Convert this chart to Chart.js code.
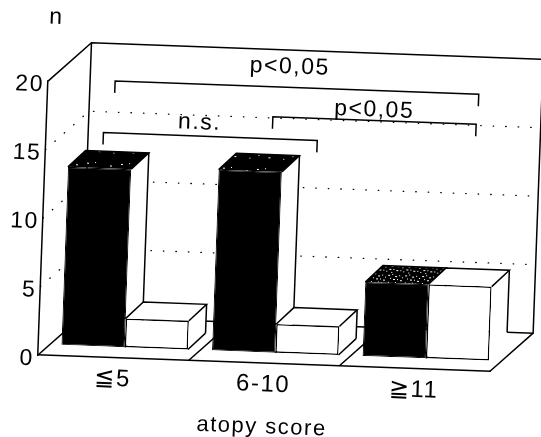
<!DOCTYPE html>
<html><head><meta charset="utf-8">
<style>html,body{margin:0;padding:0;background:#fff}canvas{display:block}</style>
<script src="https://cdn.jsdelivr.net/npm/chart.js@4"></script>
</head><body><canvas id="c" width="541" height="437"></canvas>
<script>
const categories = ['≦5', '6-10', '≧11'];
const blackValues = [13, 13.2, 5.4];
const whiteValues = [2.1, 2.1, 5.4];
const yTicks = [0, 5, 10, 15, 20];
const xTitle = 'atopy score';
const yUnit = 'n';
const bracketLabels = ['p<0,05', 'n.s.', 'p<0,05'];
const bracketFrom = [-0.055, -0.12, 1.0];
const bracketTo = [2.36, 1.3, 2.35];
const bracketLevel = [20.2, 16.4, 18.0];
const FONT = '"Liberation Sans", "DejaVu Sans", sans-serif';
const TILT = 2.1 * Math.PI / 180, PIVOT = [38, 355];
const WALL = [42, -40], FRONT = [11, -11], BAR = [17, -17];

function speckle(points, size) {
  const c = document.createElement('canvas'); c.width = c.height = size;
  const g = c.getContext('2d');
  g.fillStyle = '#000'; g.fillRect(0, 0, size, size);
  g.fillStyle = '#fff';
  points.forEach(p => g.fillRect(p[0], p[1], p[2] || 1, 1));
  return c;
}
const darkSpots = [[1,2,2],[9,1],[24,4,2],[4,9],[30,12],[16,11,2],[2,22],[27,25],[12,24,2],[20,18]];
const lightSpots = [[0,1,2],[4,0],[7,2,2],[11,1],[14,3],[2,4],[5,5,2],[9,5],[12,6,2],[0,8],[3,9,2],[7,8],[10,9],[14,10],[1,12,2],[5,12],[8,13,2],[12,13],[15,14],[3,15]];

function line(ctx, pts, w) {
  ctx.lineWidth = w || 1.5; ctx.strokeStyle = '#000';
  ctx.beginPath(); pts.forEach((p, i) => i ? ctx.lineTo(p[0], p[1]) : ctx.moveTo(p[0], p[1])); ctx.stroke();
}
function text(ctx, s, x, y) {
  ctx.fillStyle = '#000'; ctx.textAlign = 'center'; ctx.textBaseline = 'middle';
  ctx.font = '23px ' + FONT; ctx.fillText(s, x, y);
}
function faces(chart, ctx, di) {
  const meta = chart.getDatasetMeta(di), a = chart.chartArea;
  const floorBack = a.bottom + WALL[1] - FRONT[1];
  meta.data.forEach((b, j) => {
    const l = b.x - b.width / 2, r = b.x + b.width / 2, t = b.y, base = b.base;
    const dx = BAR[0], dy = BAR[1];
    ctx.fillStyle = '#fff';
    ctx.beginPath(); ctx.moveTo(r, t); ctx.lineTo(r + dx, t + dy); ctx.lineTo(r + dx, base + dy); ctx.lineTo(r, base); ctx.closePath(); ctx.fill();
    if (di === 0) {
      ctx.fillStyle = ctx.createPattern(speckle(j === 2 ? lightSpots : darkSpots, j === 2 ? 17 : 34), 'repeat');
    }
    ctx.beginPath(); ctx.moveTo(l, t); ctx.lineTo(l + dx, t + dy); ctx.lineTo(r + dx, t + dy); ctx.lineTo(r, t); ctx.closePath(); ctx.fill();
    line(ctx, [[l, t], [l + dx, t + dy], [r + dx, t + dy], [r, t]]);
    const tall = j === 2 && di === 1;
    line(ctx, [[r + dx, t + dy], [r + dx, tall ? floorBack : base + dy]]);
    if (!tall) line(ctx, [[r + dx, base + dy], [r, base]]);
  });
}

const scene = {
  id: 'scene',
  beforeDraw(chart) {
    const ctx = chart.ctx;
    ctx.save();
    ctx.letterSpacing = '1.5px';
    ctx.translate(PIVOT[0], PIVOT[1]); ctx.rotate(TILT); ctx.translate(-PIVOT[0], -PIVOT[1]);
  },
  beforeDatasetsDraw(chart) {
    const ctx = chart.ctx, a = chart.chartArea, y = chart.scales.y, x = chart.scales.x;
    const [wx, wy] = WALL;
    ctx.lineCap = 'round';
    ctx.setLineDash([0.5, 12]);
    yTicks.filter(v => v > 0 && v < 20).forEach(v => {
      const py = y.getPixelForValue(v);
      line(ctx, [[a.left, py], [a.left + wx, py + wy], [a.right + wx, py + wy]], 1.3);
    });
    ctx.setLineDash([]); ctx.lineCap = 'butt';
    const top = y.getPixelForValue(20);
    line(ctx, [[a.left, top], [a.left + wx, top + wy], [a.right + wx, top + wy], [a.right + wx, a.bottom + wy], [a.left + wx, a.bottom + wy], [a.left + wx, top + wy]]);
    line(ctx, [[a.left, a.bottom], [a.left + wx, a.bottom + wy]]);
    line(ctx, [[a.right, a.bottom], [a.right + wx, a.bottom + wy]]);
    [0.5, 1.5].forEach(v => {
      const px = x.getPixelForValue(v);
      line(ctx, [[px, a.bottom], [px + wx, a.bottom + wy]]);
    });
    ctx.save();
    ctx.translate(FRONT[0], FRONT[1]);
    faces(chart, ctx, 0);
    ctx.restore();
    ctx.save();
    ctx.translate(FRONT[0], FRONT[1]);
  },
  afterDatasetsDraw(chart) {
    const ctx = chart.ctx, x = chart.scales.x, y = chart.scales.y;
    faces(chart, ctx, 1);
    ctx.restore();
    bracketLabels.forEach((s, i) => {
      const l = x.getPixelForValue(bracketFrom[i]), r = x.getPixelForValue(bracketTo[i]), py = y.getPixelForValue(bracketLevel[i]);
      line(ctx, [[l, py + 12], [l, py], [r, py], [r, py + 12]]);
    });
    text(ctx, bracketLabels[0], 279, 58);
    text(ctx, bracketLabels[1], 191, 117);
    text(ctx, bracketLabels[2], 365, 98);
    text(ctx, yUnit, 44, 17);
  },
  afterDraw(chart) { chart.ctx.restore(); }
};

new Chart(document.getElementById('c'), {
  type: 'bar',
  data: { labels: categories, datasets: [
    { data: blackValues, backgroundColor: '#000', borderColor: '#000', borderWidth: 1, borderSkipped: false, clip: false },
    { data: whiteValues, backgroundColor: '#fff', borderColor: '#000', borderWidth: 1.5, borderSkipped: false, clip: false }
  ]},
  options: {
    responsive: false, animation: false, devicePixelRatio: 1,
    layout: { padding: { left: 0, top: 81, right: 51, bottom: 0 } },
    plugins: { legend: { display: false }, tooltip: { enabled: false }, title: { display: false } },
    datasets: { bar: { categoryPercentage: 0.84, barPercentage: 1 } },
    scales: {
      x: {
        grid: { display: false, drawTicks: false },
        border: { display: true, color: '#000', width: 1.5 },
        ticks: { color: '#000', padding: 7, maxRotation: 0, autoSkip: false, font: { family: FONT, size: 24 } },
        title: { display: true, text: xTitle, color: '#000', font: { family: FONT, size: 22 }, padding: { top: 0, bottom: 5 } },
        afterFit(s) { s.height = 82; }
      },
      y: {
        min: 0, max: 20,
        afterBuildTicks(s) { s.ticks = yTicks.map(v => ({ value: v })); },
        grid: { display: false, drawTicks: false },
        border: { display: true, color: '#000', width: 1.5 },
        ticks: { color: '#000', padding: 4, labelOffset: 4, font: { family: FONT, size: 23 } },
        afterFit(s) { s.width = 38; }
      }
    }
  },
  plugins: [scene]
});
</script></body></html>
